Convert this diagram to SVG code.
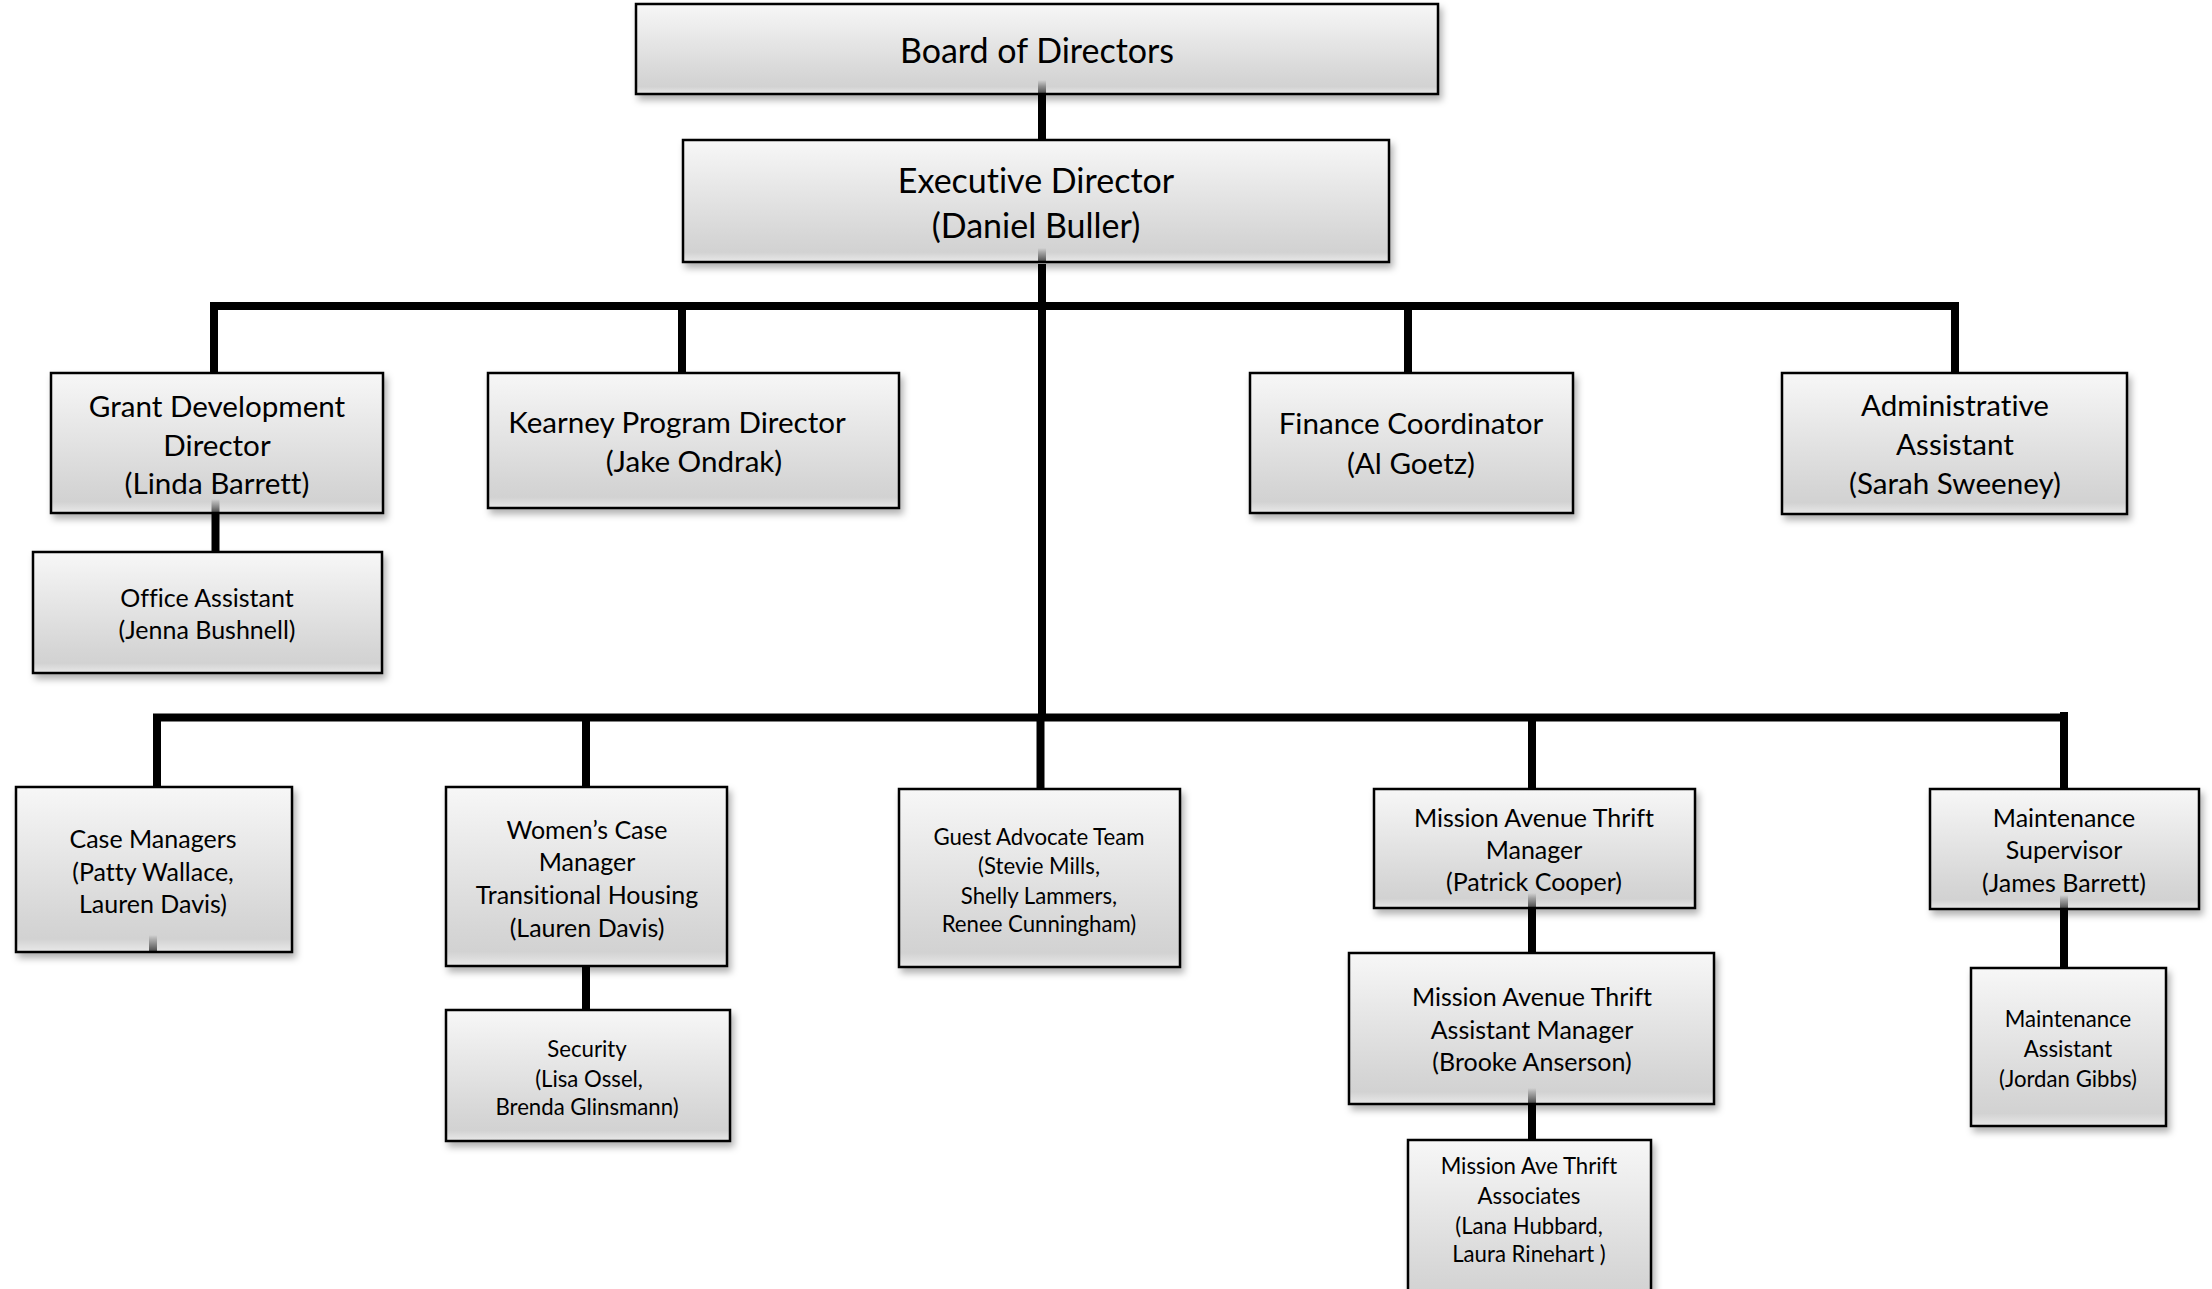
<svg xmlns="http://www.w3.org/2000/svg" width="2212" height="1289" viewBox="0 0 2212 1289">
<defs>
<linearGradient id="fill" x1="0" y1="0" x2="0" y2="1">
<stop offset="0" stop-color="#f7f7f7"/>
<stop offset="0.8" stop-color="#d6d6d6"/>
<stop offset="0.92" stop-color="#d2d2d2"/>
<stop offset="1" stop-color="#e9e9e9"/>
</linearGradient>
<linearGradient id="stub" x1="0" y1="0" x2="0" y2="1">
<stop offset="0" stop-color="#000" stop-opacity="0"/>
<stop offset="1" stop-color="#000" stop-opacity="0.7"/>
</linearGradient>
<filter id="sh" x="-10%" y="-10%" width="125%" height="130%">
<feDropShadow dx="3" dy="5" stdDeviation="3.5" flood-color="#000" flood-opacity="0.3"/>
</filter>
</defs>
<style>
.box{fill:url(#fill);stroke:#000;stroke-width:2.5;filter:url(#sh)}
text{font-family:Lato,"Open Sans","Liberation Sans",sans-serif;fill:#000;text-anchor:middle;font-variant-ligatures:none;font-feature-settings:"liga" 0,"clig" 0}
.f36{font-size:34px}
.f32{font-size:29.6px}
.f27{font-size:25px}
.f24{font-size:22.2px}
.ln{stroke:#000;stroke-width:8;fill:none}
.stub{fill:url(#stub)}
</style>
<rect width="2212" height="1289" fill="#fff"/>
<g id="nodes">
<g id="board"><rect class="box" x="636" y="4" width="802" height="90"/>
<text class="f36" x="1037" y="63">Board of Directors</text></g>
<g id="exec"><rect class="box" x="683" y="140" width="706" height="122"/>
<text class="f36" x="1036" y="193">Executive Director</text>
<text class="f36" x="1036" y="238">(Daniel Buller)</text></g>
<g id="grant"><rect class="box" x="51" y="373" width="332" height="140"/>
<text class="f32" x="217" y="417">Grant Development</text>
<text class="f32" x="217" y="456">Director</text>
<text class="f32" x="217" y="494">(Linda Barrett)</text></g>
<g id="office"><rect class="box" x="33" y="552" width="349" height="121"/>
<text class="f27" x="207" y="607">Office Assistant</text>
<text class="f27" x="207" y="639">(Jenna Bushnell)</text></g>
<g id="kearney"><rect class="box" x="488" y="373" width="411" height="135"/>
<text class="f32" x="677" y="433">Kearney Program Director</text>
<text class="f32" x="694" y="472">(Jake Ondrak)</text></g>
<g id="finance"><rect class="box" x="1250" y="373" width="323" height="140"/>
<text class="f32" x="1411" y="434">Finance Coordinator</text>
<text class="f32" x="1411" y="474">(Al Goetz)</text></g>
<g id="admin"><rect class="box" x="1782" y="373" width="345" height="141"/>
<text class="f32" x="1955" y="416">Administrative</text>
<text class="f32" x="1955" y="455">Assistant</text>
<text class="f32" x="1955" y="494">(Sarah Sweeney)</text></g>
<g id="case"><rect class="box" x="16" y="787" width="276" height="165"/>
<text class="f27" x="153" y="848">Case Managers</text>
<text class="f27" x="153" y="881">(Patty Wallace,</text>
<text class="f27" x="153" y="913">Lauren Davis)</text></g>
<g id="women"><rect class="box" x="446" y="787" width="281" height="179"/>
<text class="f27" x="587" y="839">Women’s Case</text>
<text class="f27" x="587" y="871">Manager</text>
<text class="f27" x="587" y="904">Transitional Housing</text>
<text class="f27" x="587" y="937">(Lauren Davis)</text></g>
<g id="security"><rect class="box" x="446" y="1010" width="284" height="131"/>
<text class="f24" x="587" y="1057">Security</text>
<text class="f24" x="589" y="1087">(Lisa Ossel,</text>
<text class="f24" x="587" y="1115">Brenda Glinsmann)</text></g>
<g id="guest"><rect class="box" x="899" y="789" width="281" height="178"/>
<text class="f24" x="1039" y="845">Guest Advocate Team</text>
<text class="f24" x="1039" y="874">(Stevie Mills,</text>
<text class="f24" x="1039" y="904">Shelly Lammers,</text>
<text class="f24" x="1039" y="932">Renee Cunningham)</text></g>
<g id="thrift"><rect class="box" x="1374" y="789" width="321" height="119"/>
<text class="f27" x="1534" y="827">Mission Avenue Thrift</text>
<text class="f27" x="1534" y="859">Manager</text>
<text class="f27" x="1534" y="891">(Patrick Cooper)</text></g>
<g id="thriftasst"><rect class="box" x="1349" y="953" width="365" height="151"/>
<text class="f27" x="1532" y="1006">Mission Avenue Thrift</text>
<text class="f27" x="1532" y="1039">Assistant Manager</text>
<text class="f27" x="1532" y="1071">(Brooke Anserson)</text></g>
<g id="associates"><rect class="box" x="1408" y="1140" width="243" height="170"/>
<text class="f24" x="1529" y="1174">Mission Ave Thrift</text>
<text class="f24" x="1529" y="1204">Associates</text>
<text class="f24" x="1529" y="1234">(Lana Hubbard,</text>
<text class="f24" x="1529" y="1262">Laura Rinehart )</text></g>
<g id="maintsup"><rect class="box" x="1930" y="789" width="269" height="120"/>
<text class="f27" x="2064" y="827">Maintenance</text>
<text class="f27" x="2064" y="859">Supervisor</text>
<text class="f27" x="2064" y="892">(James Barrett)</text></g>
<g id="maintasst"><rect class="box" x="1971" y="968" width="195" height="158"/>
<text class="f24" x="2068" y="1027">Maintenance</text>
<text class="f24" x="2068" y="1057">Assistant</text>
<text class="f24" x="2068" y="1087">(Jordan Gibbs)</text></g>
</g>
<g id="connectors">
<line class="ln" x1="1042" y1="95" x2="1042" y2="139"/>
<line class="ln" x1="1042" y1="264" x2="1042" y2="721"/>
<line class="ln" x1="210" y1="306" x2="1959" y2="306"/>
<line class="ln" x1="214" y1="302" x2="214" y2="372"/>
<line class="ln" x1="682" y1="306" x2="682" y2="372"/>
<line class="ln" x1="1408" y1="306" x2="1408" y2="372"/>
<line class="ln" x1="1955" y1="302" x2="1955" y2="372"/>
<line class="ln" x1="153" y1="717.5" x2="2068" y2="717.5"/>
<line class="ln" x1="157" y1="714" x2="157" y2="786"/>
<line class="ln" x1="586" y1="717" x2="586" y2="786"/>
<line class="ln" x1="1040.5" y1="721" x2="1040.5" y2="788"/>
<line class="ln" x1="1532" y1="717" x2="1532" y2="788"/>
<line class="ln" x1="2064" y1="712" x2="2064" y2="788"/>
<line class="ln" x1="215.5" y1="514" x2="215.5" y2="551"/>
<line class="ln" x1="586" y1="967" x2="586" y2="1009"/>
<line class="ln" x1="1532" y1="909" x2="1532" y2="952"/>
<line class="ln" x1="1532" y1="1105" x2="1532" y2="1139"/>
<line class="ln" x1="2064" y1="910" x2="2064" y2="967"/>
<rect class="stub" x="1038" y="80" width="8" height="14"/>
<rect class="stub" x="1038" y="248" width="8" height="14"/>
<rect class="stub" x="211.5" y="499" width="8" height="14"/>
<rect class="stub" x="149" y="935" width="8" height="17"/>
<rect class="stub" x="1528" y="893" width="8" height="15"/>
<rect class="stub" x="1528" y="1088" width="8" height="16"/>
<rect class="stub" x="2060" y="895" width="8" height="14"/>
</g>
</svg>
